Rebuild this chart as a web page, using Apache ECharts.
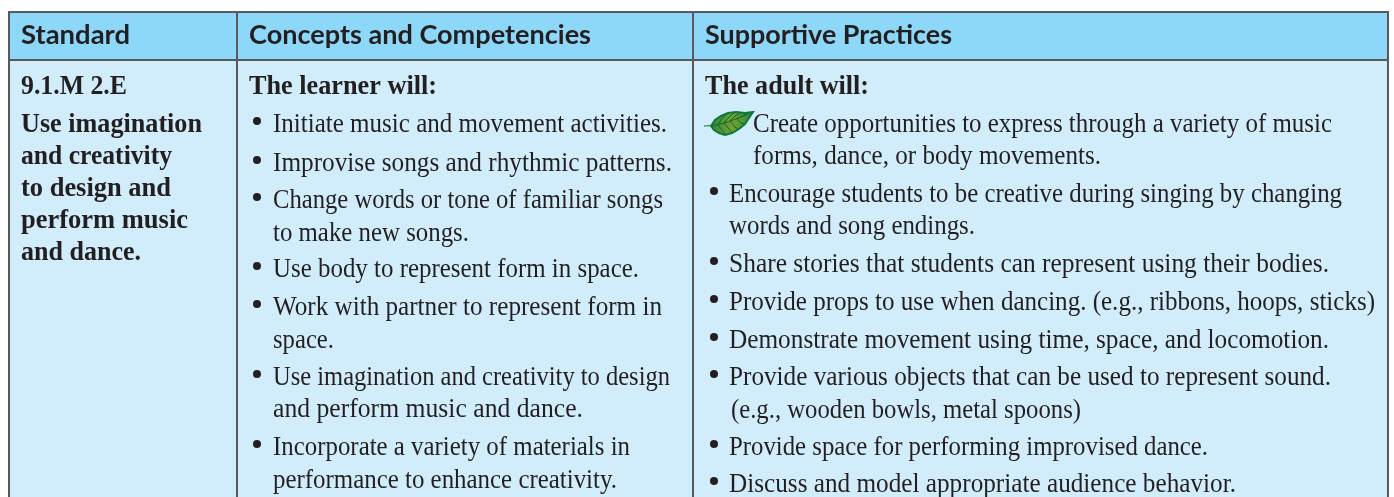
<!DOCTYPE html>
<html><head><meta charset="utf-8">
<style>html,body{margin:0;padding:0;background:#fff}#c{width:1394px;height:497px}</style>
<script src="https://cdn.jsdelivr.net/npm/echarts@6/dist/echarts.min.js"></script></head>
<body><div id="c"></div><script>
const headers = ['Standard','Concepts and Competencies','Supportive Practices'];
const headerX=[21,249,705], headerEnd=[130,591,952];
const standardLines = ['9.1.M 2.E','Use imagination','and creativity','to design and','perform music','and dance.'];
const standardY=[85,123,155,187,219,251], standardEnd=[127,202,172,171,188,141];
const learnerTitle = 'The learner will:';
const learnerBullets=[1,1,1,0,1,1,0,1,0,1,0];
const learnerLines = ['Initiate music and movement activities.','Improvise songs and rhythmic patterns.','Change words or tone of familiar songs','to make new songs.','Use body to represent form in space.','Work with partner to represent form in','space.','Use imagination and creativity to design','and perform music and dance.','Incorporate a variety of materials in','performance to enhance creativity.'];
const learnerY=[123,162,199,232,268,306,339,376,408,446,479];
const learnerEnd=[667,672,663,469,639,662,334,670,583,630,617];
const adultTitle = 'The adult will:';
const adultBullets=[0,0,1,0,1,1,1,1,0,1,1];
const adultLines = ['Create opportunities to express through a variety of music','forms, dance, or body movements.','Encourage students to be creative during singing by changing','words and song endings.','Share stories that students can represent using their bodies.','Provide props to use when dancing. (e.g., ribbons, hoops, sticks)','Demonstrate movement using time, space, and locomotion.','Provide various objects that can be used to represent sound.','(e.g., wooden bowls, metal spoons)','Provide space for performing improvised dance.','Discuss and model appropriate audience behavior.'];
const adultX=[753,753,729,729,729,729,729,729,731,729,729];
const adultY=[123,155,193,225,263,301,339,376,409,446,483];
const adultEnd=[1332,1101,1342,975,1329,1375,1329,1331,1081,1208,1236];
const INK='#231f20', LINE='#58595b';
const g=[];
g.push({type:'rect',shape:{x:9,y:12,width:1379,height:48},style:{fill:'#8dd7f9'}});
g.push({type:'rect',shape:{x:9,y:60,width:1379,height:437},style:{fill:'#d1edfc'}});
[[8,12,1389,12],[8,60,1389,60],[9,12,9,497],[237,12,237,497],[693,12,693,497],[1388,12,1388,497]].forEach(l=>g.push({type:'line',shape:{x1:l[0],y1:l[1],x2:l[2],y2:l[3]},style:{stroke:LINE,lineWidth:2}}));
const serif='"Liberation Serif"';
const ctx=document.createElement('canvas').getContext('2d');
function txt(s,x,end,y,size,weight,fam){const font=weight+' '+size+'px '+fam;ctx.font=font;const sx=(end-x)/ctx.measureText(s).width;
 g.push({type:'text',x:x,y:y+2,scaleX:sx,originX:0,style:{text:s,x:0,y:0,fill:INK,font:font,verticalAlign:'middle',align:'left'},z:5});}
headers.forEach((h,i)=>txt(h,headerX[i],headerEnd[i],34,26,'bold','Lato'));
standardLines.forEach((s,i)=>txt(s,21,standardEnd[i],standardY[i],27,'bold',serif));
txt(learnerTitle,249,437,85,27,'bold',serif);
txt(adultTitle,705,869,85,27,'bold',serif);
function dot(x,y){g.push({type:'circle',shape:{cx:x,cy:y,r:4},style:{fill:INK},z:5});}
learnerLines.forEach((s,i)=>{if(learnerBullets[i])dot(257,learnerY[i]-2);txt(s,273,learnerEnd[i],learnerY[i],27,'normal',serif);});
adultLines.forEach((s,i)=>{if(adultBullets[i])dot(714,adultY[i]-2);txt(s,adultX[i],adultEnd[i],adultY[i],27,'normal',serif);});
// leaf icon
g.push({type:'line',shape:{x1:704,y1:126,x2:713,y2:125.5},style:{stroke:'#0a7a3a',lineWidth:1.2},z:6});
g.push({type:'polygon',shape:{points:[[711,126],[715,120],[721,116],[728,113],[736,112],[745,113],[753,112],[749,118],[745,124],[739,129],[732,133],[725,135],[719,133],[714,130]]},style:{fill:{type:'linear',x:0,y:0,x2:1,y2:0,colorStops:[{offset:0,color:'#2f8636'},{offset:.5,color:'#76a032'},{offset:1,color:'#2f8636'}]},stroke:'#0b7a3c',lineWidth:2},z:6});
[[[712,126],[728,122],[751,113]],[[718,125],[722,118],[727,114]],[[724,123],[729,117],[734,113]],[[730,121],[735,116],[741,113]],[[737,119],[742,116],[746,114]],[[718,125],[722,130],[725,134]],[[724,123],[729,129],[732,132]],[[730,121],[735,127],[738,129]],[[737,119],[741,123],[744,124]]].forEach(p=>g.push({type:'polyline',shape:{points:p},style:{fill:'none',stroke:'#0a6a35',lineWidth:1},z:7}));
echarts.init(document.getElementById('c'),null,{renderer:'canvas'}).setOption({animation:false,graphic:{elements:g}});
</script></body></html>
